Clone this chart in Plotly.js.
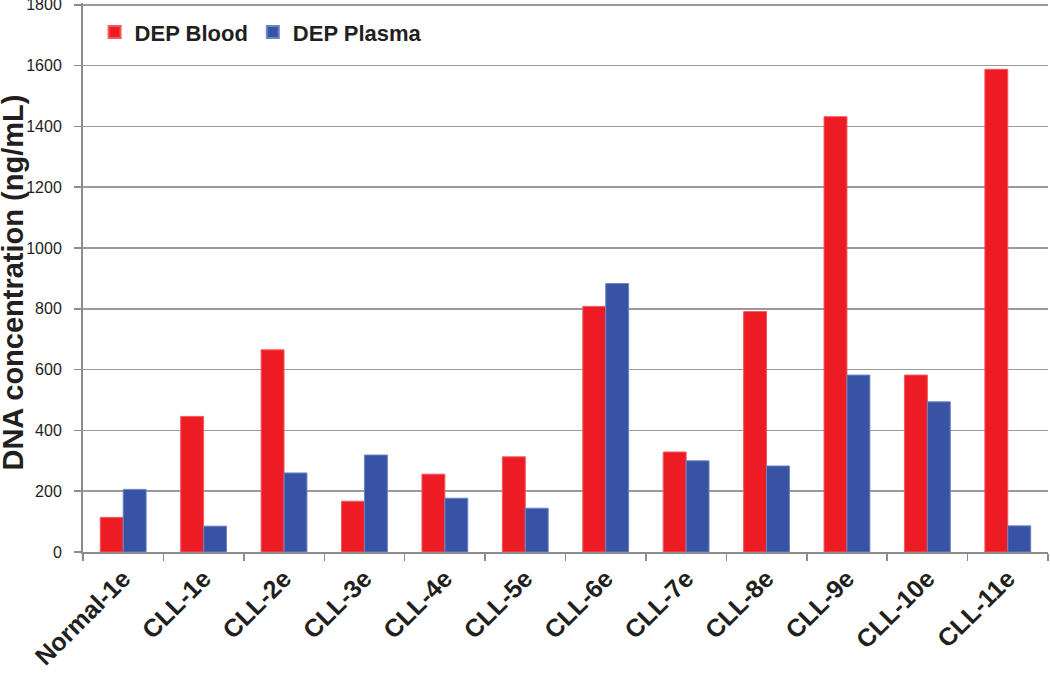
<!DOCTYPE html>
<html>
<head>
<meta charset="utf-8">
<script src="https://cdn.plot.ly/plotly-3.0.1.min.js"></script>
<style>html,body{margin:0;padding:0;background:#fff;}#chart{width:1050px;height:673px;}</style>
</head>
<body>
<div id="chart"></div>
<script>
const categories = ["Normal-1e","CLL-1e","CLL-2e","CLL-3e","CLL-4e","CLL-5e","CLL-6e","CLL-7e","CLL-8e","CLL-9e","CLL-10e","CLL-11e"];
const depBlood  = [114, 446, 665, 167, 256, 313, 808, 329, 791, 1432, 582, 1588];
const depPlasma = [206,  85, 260, 319, 177, 144, 883, 300, 283,  582, 494,   86];
const yTicks = [0,200,400,600,800,1000,1200,1400,1600,1800];
const yTitle = 'DNA concentration (ng/mL)';

const traces = [
  {type:'bar', name:'DEP Blood', x:categories, y:depBlood,
   marker:{color:'#ED1C24', line:{color:'#F25A5F', width:1}}},
  {type:'bar', name:'DEP Plasma', x:categories, y:depPlasma,
   marker:{color:'#3953A4', line:{color:'#6F83C2', width:1}}}
];

const layout = {
  width:1050, height:673,
  margin:{l:83, r:2, t:3, b:121, pad:0},
  paper_bgcolor:'#fff', plot_bgcolor:'#fff',
  font:{family:'Liberation Sans, Arial, sans-serif', color:'#231F20'},
  bargap:0.43, bargroupgap:0,
  showlegend:true,
  legend:{orientation:'h', x:0.012, y:0.985, xanchor:'left', yanchor:'top',
          font:{size:22, family:'Liberation Sans, Arial, sans-serif', weight:'bold', color:'#231F20'},
          bgcolor:'rgba(0,0,0,0)', itemsizing:'constant', traceorder:'normal'},
  xaxis:{type:'category', tickangle:-45, showgrid:false,
         tickson:'boundaries', ticks:'outside', ticklen:7, tickcolor:'#8C8C8C', tickwidth:1.5,
         showline:true, linecolor:'#8C8C8C', linewidth:2,
         tickfont:{size:25, family:'Liberation Sans, Arial, sans-serif', weight:'bold', color:'#231F20'}},
  yaxis:{range:[0,1806], tickvals:yTicks, ticktext:yTicks.map(String),
         showgrid:true, gridcolor:'#9A9A9A', gridwidth:1.5,
         ticks:'outside', ticklen:7, tickcolor:'#8C8C8C', tickwidth:1.5,
         ticklabelstandoff:9, ticklabeloverflow:'allow',
         showline:true, linecolor:'#8C8C8C', linewidth:2, zeroline:false,
         tickfont:{size:16, color:'#231F20'}},
  annotations:[{text:yTitle, textangle:-90, showarrow:false,
                xref:'paper', yref:'paper', x:-0.073, y:0.49, xanchor:'center', yanchor:'middle',
                font:{size:29, family:'Liberation Sans, Arial, sans-serif', weight:'bold', color:'#231F20'}}]
};

Plotly.newPlot('chart', traces, layout, {displayModeBar:false, staticPlot:true});
</script>
</body>
</html>
